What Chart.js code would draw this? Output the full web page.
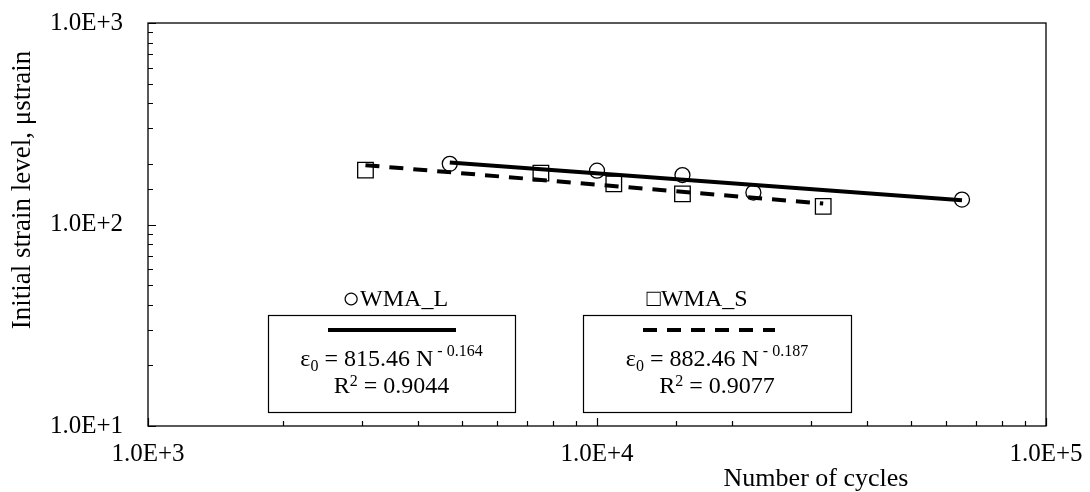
<!DOCTYPE html>
<html>
<head>
<meta charset="utf-8">
<script src="https://cdn.jsdelivr.net/npm/chart.js@4.4.1/dist/chart.umd.min.js"></script>
<style>
  html, body { margin: 0; padding: 0; background: #fff; }
</style>
</head>
<body>
<canvas id="fatigueChart" width="1090" height="492"></canvas>
<script>
// Data
const cyclesL = [4700, 10000, 15500, 22300, 65000];
const strainL = [200, 185, 176, 144, 133];
const cyclesS = [3050, 7500, 10900, 15500, 31900];
const strainS = [186, 180, 159, 142, 123];

// power-law trend lines, end points only
const trendCyclesL = [4700, 65000];
const trendStrainL = [203, 132];
const trendCyclesS = [3050, 31900];
const trendStrainS = [197, 127];

const xLabelValues = [1e3, 1e4, 1e5];
const yLabelValues = [1e1, 1e2, 1e3];
const xTitle = "Number of cycles";
const yTitle = "Initial strain level, \u03bcstrain";
const seriesSymbols = ["\u25cb", "\u25a1"];
const seriesNames = ["WMA_L", "WMA_S"];
const coefs = ["815.46", "882.46"];
const exponents = [" - 0.164", " - 0.187"];
const rSquared = ["0.9044", "0.9077"];

const FONT = "'Liberation Serif', 'Times New Roman', serif";

function toPoints(xs, ys) {
    return xs.map((x, i) => ({ x: x, y: ys[i] }));
}

function isDecade(v) {
    const l = Math.log10(v);
    return Math.abs(l - Math.round(l)) < 1e-9;
}

function sciLabel(v) {
    return isDecade(v) ? Number(v).toExponential(1).toUpperCase() : '';
}

// draws text made of pieces with different sizes / offsets, centred on cx
function drawRich(ctx, parts, cx, baseline) {
    let total = 0;
    parts.forEach(p => {
        ctx.font = p.size + "px " + (p.family || FONT);
        p.w = ctx.measureText(p.t).width;
        total += p.w;
    });
    let x = cx - total / 2;
    ctx.textAlign = 'left';
    ctx.textBaseline = 'alphabetic';
    parts.forEach(p => {
        ctx.font = p.size + "px " + (p.family || FONT);
        ctx.fillText(p.t, x, baseline + (p.dy || 0));
        x += p.w;
    });
}

const decorPlugin = {
    id: 'decor',
    afterDraw(chart) {
        const ctx = chart.ctx;
        const a = chart.chartArea;
        const xs = chart.scales.x;
        const ys = chart.scales.y;
        ctx.save();
        ctx.strokeStyle = '#000';
        ctx.fillStyle = '#000';

        // plot frame
        ctx.lineWidth = 1.3;
        ctx.strokeRect(a.left, a.top, a.right - a.left, a.bottom - a.top);

        // inward tick marks
        ctx.lineWidth = 1.2;
        ctx.beginPath();
        xs.ticks.forEach(t => {
            const px = Math.round(xs.getPixelForValue(t.value)) + 0.5;
            const len = isDecade(t.value) ? 8 : 5;
            ctx.moveTo(px, a.bottom);
            ctx.lineTo(px, a.bottom - len);
        });
        ys.ticks.forEach(t => {
            const py = Math.round(ys.getPixelForValue(t.value)) + 0.5;
            const len = isDecade(t.value) ? 8 : 5;
            ctx.moveTo(a.left, py);
            ctx.lineTo(a.left + len, py);
        });
        ctx.stroke();

        // axis titles
        ctx.textAlign = 'center';
        ctx.textBaseline = 'middle';
        ctx.font = "26px " + FONT;
        ctx.fillText(xTitle, 816, 479);
        ctx.save();
        ctx.font = "27px " + FONT;
        ctx.translate(23, 190);
        ctx.rotate(-Math.PI / 2);
        ctx.fillText(yTitle, 0, 0);
        ctx.restore();

        // legend / equation boxes
        const boxes = [
            { left: 268, right: 515, nameX: 395, lineL: 328, lineR: 456, dash: [] },
            { left: 583, right: 851, nameX: 697, lineL: 643, lineR: 775, dash: [14, 10] }
        ];
        boxes.forEach((b, i) => {
            ctx.lineWidth = 1.2;
            ctx.setLineDash([]);
            ctx.strokeRect(b.left + 0.5, 315.5, b.right - b.left, 97);

            drawRich(ctx, [
                { t: seriesSymbols[i], size: i === 0 ? 30 : 24, dy: i === 0 ? 2 : 0 },
                { t: seriesNames[i], size: 24 }
            ], b.nameX, 306);

            ctx.lineWidth = 4;
            ctx.setLineDash(b.dash);
            ctx.beginPath();
            ctx.moveTo(b.lineL, 330);
            ctx.lineTo(b.lineR, 330);
            ctx.stroke();
            ctx.setLineDash([]);

            const cx = (b.left + b.right) / 2;
            drawRich(ctx, [
                { t: "\u03b5", size: 24 },
                { t: "0", size: 16, dy: 5 },
                { t: " = " + coefs[i] + " N", size: 24 },
                { t: exponents[i], size: 16, dy: -10 }
            ], cx, 366);
            drawRich(ctx, [
                { t: "R", size: 24 },
                { t: "2", size: 16, dy: -7 },
                { t: " = " + rSquared[i], size: 24 }
            ], cx, 393);
        });
        ctx.restore();
    }
};

Chart.defaults.font.family = FONT;
Chart.defaults.font.size = 25;
Chart.defaults.color = '#000';

const ctx = document.getElementById('fatigueChart').getContext('2d');
new Chart(ctx, {
    type: 'scatter',
    data: {
        datasets: [
            {
                label: 'WMA_L',
                data: toPoints(cyclesL, strainL),
                pointStyle: 'circle',
                pointRadius: 7.5,
                borderColor: '#000',
                backgroundColor: 'rgba(0,0,0,0)',
                borderWidth: 1.3
            },
            {
                label: 'WMA_S',
                data: toPoints(cyclesS, strainS),
                pointStyle: 'rect',
                pointRadius: 11,
                borderColor: '#000',
                backgroundColor: 'rgba(0,0,0,0)',
                borderWidth: 1.3
            },
            {
                label: 'Power (WMA_L)',
                data: toPoints(trendCyclesL, trendStrainL),
                showLine: true,
                pointRadius: 0,
                borderColor: '#000',
                borderWidth: 4
            },
            {
                label: 'Power (WMA_S)',
                data: toPoints(trendCyclesS, trendStrainS),
                showLine: true,
                pointRadius: 0,
                borderColor: '#000',
                borderWidth: 4,
                borderDash: [14, 10]
            }
        ]
    },
    options: {
        responsive: false,
        animation: false,
        devicePixelRatio: 1,
        layout: { padding: { top: 23, right: 44, left: 0, bottom: 0 } },
        plugins: {
            legend: { display: false },
            tooltip: { enabled: false }
        },
        scales: {
            x: {
                type: 'logarithmic',
                min: xLabelValues[0],
                max: xLabelValues[xLabelValues.length - 1],
                grid: { display: false, drawTicks: false },
                border: { display: false },
                ticks: { autoSkip: false, maxRotation: 0, padding: 13, callback: sciLabel },
                afterFit: s => { s.height = 66; s.paddingLeft = 0; s.paddingRight = 0; }
            },
            y: {
                type: 'logarithmic',
                min: yLabelValues[0],
                max: yLabelValues[yLabelValues.length - 1],
                grid: { display: false, drawTicks: false },
                border: { display: false },
                ticks: { autoSkip: false, padding: 25, callback: sciLabel },
                afterFit: s => { s.width = 148; s.paddingTop = 0; s.paddingBottom = 0; }
            }
        }
    },
    plugins: [decorPlugin]
});
</script>
</body>
</html>
